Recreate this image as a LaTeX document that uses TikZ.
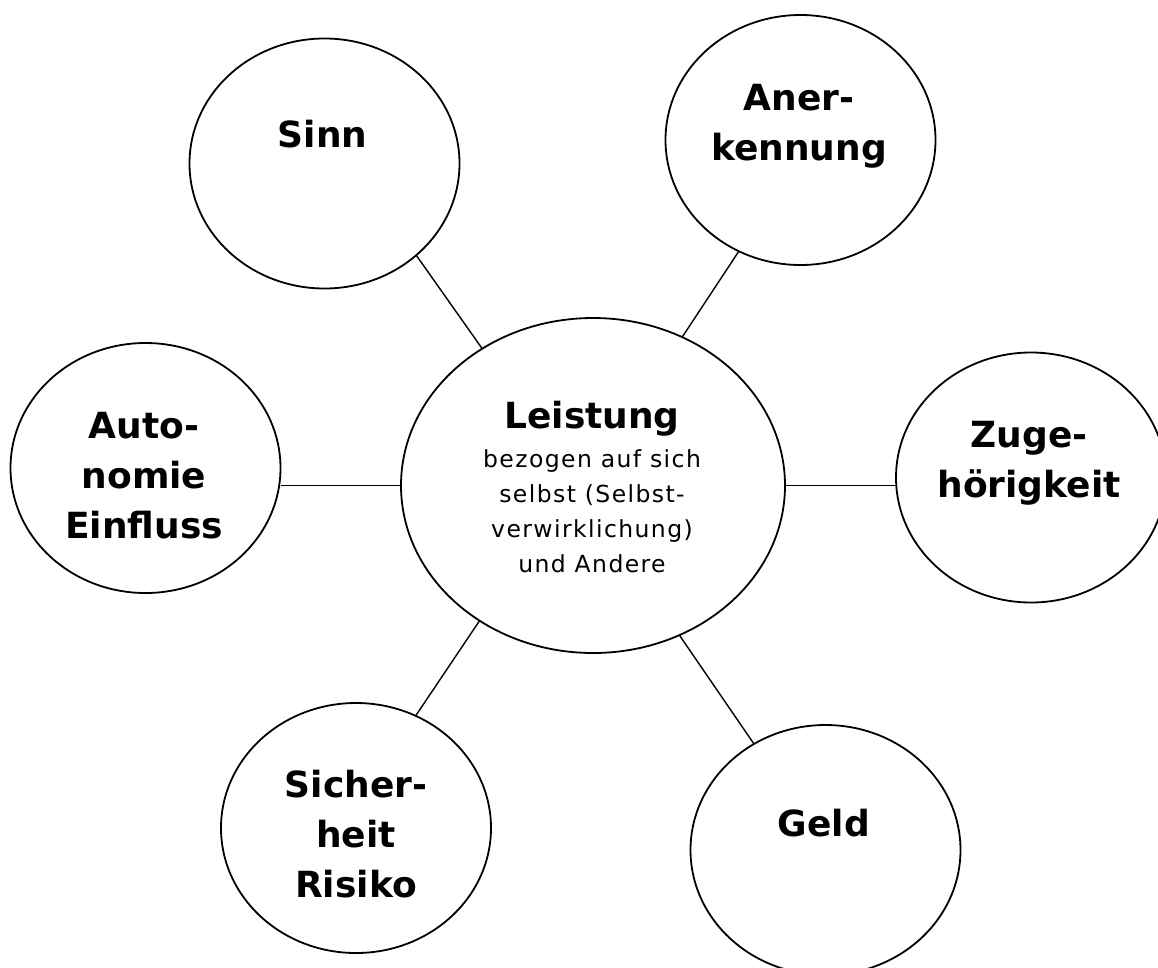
\documentclass[tikz,border=0pt]{standalone}
\usepackage{fontspec}
\setmainfont{DejaVu Sans}
\newfontfamily\plainfont[LetterSpace=6]{DejaVu Sans}
\usetikzlibrary{shapes.geometric}
\begin{document}
\begin{tikzpicture}[x=1pt,y=-1pt,
  bubble/.style={draw, line width=1.8pt, ellipse, inner sep=0pt, outer sep=0pt,
                 minimum width=270pt, minimum height=250pt},
  hub/.style={bubble, minimum width=384pt, minimum height=335pt},
  lbl/.style={anchor=base, align=center, inner sep=0pt,
              font=\bfseries\fontsize{36}{50}\selectfont},
  sub/.style={anchor=base, align=center, inner sep=0pt,
              font=\plainfont\fontsize{23.5}{34.7}\selectfont},
  link/.style={line width=1.4pt}]
\useasboundingbox (0,0) rectangle (1158,967);
\clip (0,0) rectangle (1158,967);

% bubbles
\node[hub]    (leist) at (593,485.5) {};
\node[bubble] (sinn)  at (324.5,163.5) {};
\node[bubble] (aner)  at (800.5,140) {};
\node[bubble] (auto)  at (145.5,468) {};
\node[bubble] (zug)   at (1031,477.5) {};
\node[bubble] (sich)  at (356,828) {};
\node[bubble] (geld)  at (825.5,850) {};

% labels (anchored at the baseline of the last line)
\node[lbl] (leistT) at (592,428) {Leistung};
\node[sub] (leistS) at (592,572) {bezogen auf sich\\selbst (Selbst-\\verwirklichung)\\und Andere};
\node[lbl] (sinnT)  at (322.5,147) {Sinn};
\node[lbl] (anerT)  at (799,160) {Aner-\\kennung};
\node[lbl] (autoT)  at (144,538) {Auto-\\nomie\\Einfluss};
\node[lbl] (zugT)   at (1029,497) {Zuge-\\hörigkeit};
\node[lbl] (sichT)  at (356,897) {Sicher-\\heit\\Risiko};
\node[lbl] (geldT)  at (824,836) {Geld};

% connectors
\draw[link] (sinn.-45.9) -- (leist.129.8);
\draw[link] (aner.241.4) -- (leist.59.4);
\draw[link] (leist.west) -- (leist.west -| auto.east);
\draw[link] (leist.east) -- (leist.east -| zug.west);
\draw[link] (leist.230.8) -- (sich.62);
\draw[link] (leist.-60.1) -- (geld.124.5);
\end{tikzpicture}
\end{document}
